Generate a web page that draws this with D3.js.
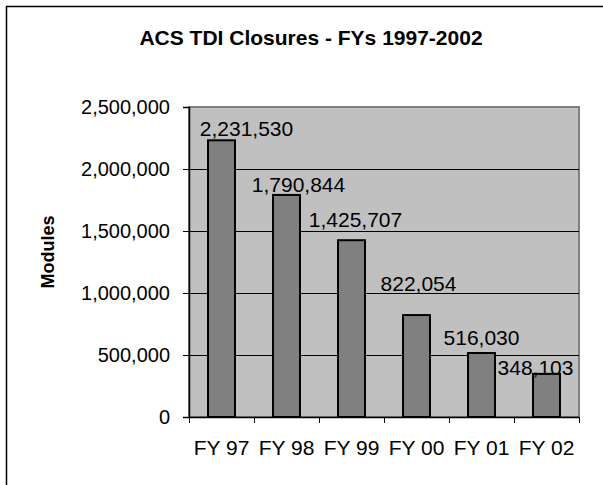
<!DOCTYPE html>
<html>
<head>
<meta charset="utf-8">
<script src="https://cdn.jsdelivr.net/npm/d3@7"></script>
<style>
  body { margin: 0; background: #fff; }
  text { font-family: Arial, "Liberation Sans", sans-serif; fill: #000; }
</style>
</head>
<body>
<div id="chart"></div>
<script>
// data
var years = ["FY 97", "FY 98", "FY 99", "FY 00", "FY 01", "FY 02"];
var closures = [2231530, 1790844, 1425707, 822054, 516030, 348103];
var yTicks = [0, 500000, 1000000, 1500000, 2000000, 2500000];
// labels were nudged by hand in the original (px, relative to default spot)
var labelNudge = [[25, 0], [12, 1], [4, -9], [2, -20], [0, -4], [-11, 5]];

function drawChart() {
  var W = 603, H = 485;
  var pLeft = 189, pRight = 579, pTop = 107, pBottom = 417;

  var svg = d3.select("#chart").append("svg")
    .attr("width", W).attr("height", H);

  // chart area border (cropped at right / bottom)
  svg.append("rect")
    .attr("x", 6.5).attr("y", 6.5)
    .attr("width", 700).attr("height", 600)
    .attr("fill", "#fff").attr("stroke", "#000").attr("stroke-width", 1.5);

  // title
  svg.append("text")
    .attr("x", 311).attr("y", 45)
    .attr("text-anchor", "middle")
    .style("font-size", "21px").style("font-weight", "bold")
    .text("ACS TDI Closures - FYs 1997-2002");

  var x = d3.scaleBand().domain(years).range([pLeft, pRight])
    .paddingInner(0.585).paddingOuter(0.2925);
  var y = d3.scaleLinear().domain([0, 2500000]).range([pBottom, pTop]);

  // plot area
  svg.append("rect")
    .attr("x", pLeft).attr("y", pTop)
    .attr("width", pRight - pLeft).attr("height", pBottom - pTop)
    .attr("fill", "#c0c0c0").attr("stroke", "#808080").attr("stroke-width", 2);

  // gridlines
  svg.append("g").selectAll("line")
    .data(yTicks.filter(function(d){ return d > 0 && d < 2500000; }))
    .enter().append("line")
    .attr("x1", pLeft).attr("x2", pRight)
    .attr("y1", function(d){ return Math.round(y(d)) + 0.5; })
    .attr("y2", function(d){ return Math.round(y(d)) + 0.5; })
    .attr("stroke", "#000").attr("stroke-width", 1);

  // bars
  svg.append("g").selectAll("rect")
    .data(closures).enter().append("rect")
    .attr("x", function(d, i){ return x(years[i]); })
    .attr("y", function(d){ return y(d); })
    .attr("width", x.bandwidth())
    .attr("height", function(d){ return pBottom - y(d); })
    .attr("fill", "#808080").attr("stroke", "#000").attr("stroke-width", 2);

  // value labels
  var fmt = d3.format(",");
  svg.append("g").selectAll("text")
    .data(closures).enter().append("text")
    .attr("x", function(d, i){ return x(years[i]) + x.bandwidth() / 2 + labelNudge[i][0]; })
    .attr("y", function(d, i){ return y(d) - 4 + labelNudge[i][1]; })
    .attr("text-anchor", "middle")
    .style("font-size", "21px")
    .text(function(d){ return fmt(d); });

  // y axis
  var yAxis = d3.axisLeft(y).tickValues(yTicks).tickSize(6).tickPadding(13)
    .tickFormat(fmt);
  var gy = svg.append("g").attr("transform", "translate(" + pLeft + ",0)").call(yAxis);
  gy.selectAll("text").style("font-size", "20px").attr("fill", "#000");
  gy.select(".domain").attr("stroke", "#000").attr("stroke-width", 1.5);

  // x axis: labels at band centres, ticks at band edges
  var gx = svg.append("g").attr("transform", "translate(0," + pBottom + ")")
    .call(d3.axisBottom(x).tickSize(0).tickPadding(23));
  gx.selectAll("text").style("font-size", "21px").attr("fill", "#000");
  gx.select(".domain").attr("stroke", "#000").attr("stroke-width", 1.5);

  var edge = d3.scaleLinear().domain([0, years.length]).range([pLeft, pRight]);
  svg.append("g").attr("transform", "translate(0," + pBottom + ")")
    .call(d3.axisBottom(edge).tickValues(d3.range(years.length + 1)).tickSize(6).tickFormat(""))
    .select(".domain").remove();

  // y axis title
  svg.append("text")
    .attr("transform", "translate(54,252) rotate(-90)")
    .attr("text-anchor", "middle")
    .style("font-size", "18px").style("font-weight", "bold")
    .text("Modules");
}
drawChart();
</script>
</body>
</html>
